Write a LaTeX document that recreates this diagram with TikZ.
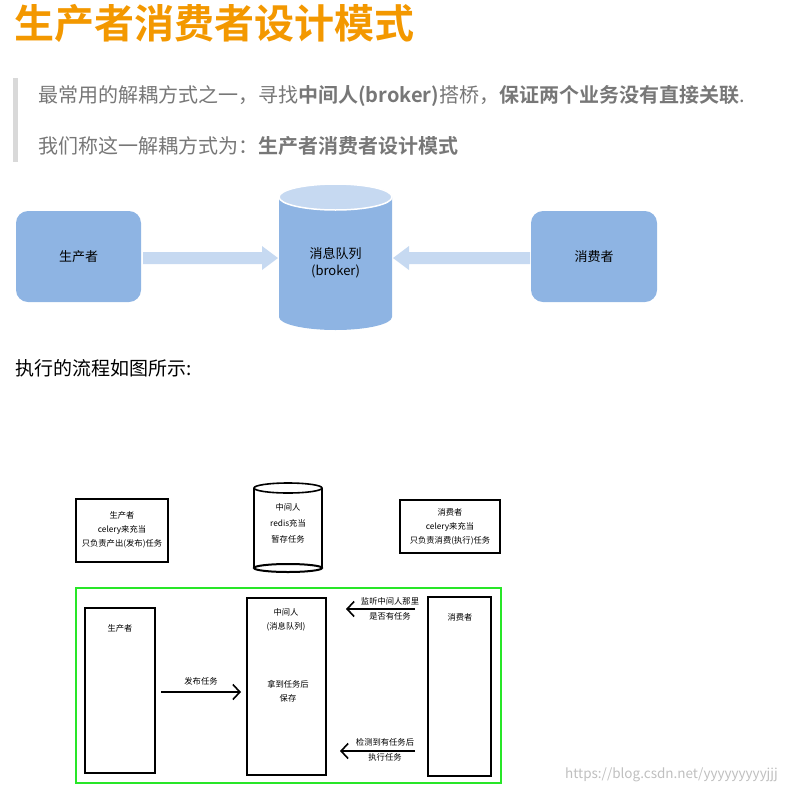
\documentclass[tikz,border=0pt]{standalone}
\usepackage{fontspec}
\setmainfont{Noto Sans CJK SC}[BoldFont={Noto Sans CJK SC Bold}]
\usetikzlibrary{arrows.meta,shapes.geometric}
\definecolor{org}{HTML}{F39800}
\definecolor{gr}{HTML}{777777}
\definecolor{bl}{HTML}{8EB4E3}
\definecolor{lb}{HTML}{C6D9F1}
\begin{document}
\begin{tikzpicture}[x=1pt,y=-1pt,
 sm/.style={font=\fontsize{8.3}{10}\selectfont,align=center,inner sep=0},
 bx/.style={draw,line width=1.6pt},
 ar/.style={line width=1.6pt,-{Straight Barb[length=7pt,width=15pt]}}]
\useasboundingbox (0,0) rectangle (801,793);
\node[anchor=west,text=org,font=\fontsize{40}{46}\selectfont\bfseries,inner sep=0] (title) at (14,23) {生产者消费者设计模式};
\fill[black!15] (13,78) rectangle (18,162);
\node[anchor=west,text=gr,font=\fontsize{20}{24}\selectfont,inner sep=0] (l1) at (38,96) {最常用的解耦方式之一，寻找\textbf{中间人(broker)}搭桥，\textbf{保证两个业务没有直接关联}.};
\node[anchor=west,text=gr,font=\fontsize{20}{24}\selectfont,inner sep=0] (l2) at (38,146) {我们称这一解耦方式为：\textbf{生产者消费者设计模式}};
% top diagram
\node[fill=bl,rounded corners=12pt,minimum width=125pt,minimum height=91pt,font=\fontsize{13}{16}\selectfont] (P) at (78.5,256.5) {生产者};
\node[fill=bl,rounded corners=12pt,minimum width=126pt,minimum height=91pt,font=\fontsize{13}{16}\selectfont] (C) at (594,256.5) {消费者};
\fill[bl] (279,197) -- (279,317) arc[start angle=180,end angle=360,x radius=56.5pt,y radius=13pt] -- (392,197) -- cycle;
\fill[lb] (335.5,197) ellipse[x radius=56.5pt,y radius=13pt];
\draw[white,line width=1.5pt] (335.5,197) ellipse[x radius=56.5pt,y radius=13pt];
\node[font=\fontsize{13}{17}\selectfont,align=center] (Q) at (335.5,263) {消息队列\\(broker)};
\fill[lb] (143,252) -- (262,252) -- (262,246) -- (278,258) -- (262,270) -- (262,264) -- (143,264) -- cycle;
\fill[lb] (530,252) -- (409,252) -- (409,246) -- (393,258) -- (409,270) -- (409,264) -- (530,264) -- cycle;
\node[anchor=west,font=\fontsize{19}{22}\selectfont,inner sep=0] (l3) at (15,368) {执行的流程如图所示:};
% lower
\draw[line width=1.6pt] (76,499) rectangle (168,562);
\node[sm] (p1) at (122,530) {生产者\\[4pt]celery来充当\\[4pt]只负责产出(发布)任务};
\draw[line width=1.6pt] (400,500) rectangle (500,553);
\node[sm] (c1) at (450,527) {消费者\\[4pt]celery来充当\\[4pt]只负责消费(执行)任务};
\draw[line width=2pt] (254,488) -- (254,568) (322,488)--(322,568);
\draw[line width=1.6pt] (288,488) ellipse[x radius=34pt,y radius=5pt];
\draw[line width=2pt] (288,568) ellipse[x radius=34pt,y radius=4pt];
\node[sm] (m1) at (288,523) {中间人\\[6pt]redis充当\\[6pt]暂存任务};
\draw[line width=1.5pt,draw={rgb,255:red,40;green,230;blue,40}] (76,588) rectangle (501,783);
\draw[bx] (85,608) rectangle (155,773);
\node[sm] (p2) at (120,628) {生产者};
\draw[bx] (247,598) rectangle (326,775);
\node[sm] (m2) at (286,620) {中间人\\[4pt](消息队列)};
\node[sm] (m3) at (288,691) {拿到任务后\\[4pt]保存};
\draw[bx] (428,597) rectangle (491,776);
\node[sm] (c2) at (460,617) {消费者};
\coordinate (a1) at (161,692); \coordinate (a2) at (241,692);
\draw[ar] (a1) -- (a2) node[sm,midway,above=6pt] {发布任务};
\coordinate (b1) at (415,609); \coordinate (b2) at (346,609);
\draw[ar] (b1) -- (b2);
\node[sm] (bt) at (390,609) {监听中间人那里\\[5pt]是否有任务};
\coordinate (d1) at (415,751); \coordinate (d2) at (340,751);
\draw[ar] (d1) -- (d2);
\node[sm] (dt) at (385,750) {检测到有任务后\\[5pt]执行任务};
\node[anchor=west,text=black!25,font=\fontsize{13.5}{15}\selectfont,inner sep=0] (wm) at (565,775) {https://blog.csdn.net/yyyyyyyyyjjj};
\end{tikzpicture}
\end{document}
